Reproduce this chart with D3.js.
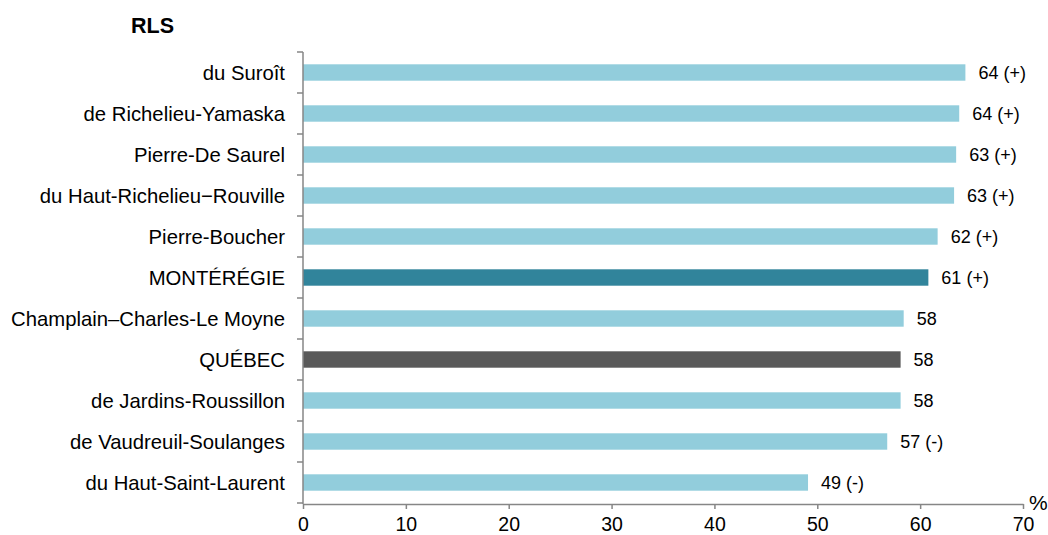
<!DOCTYPE html>
<html><head><meta charset="utf-8">
<script src="https://cdn.jsdelivr.net/npm/d3@7"></script>
<style>body{margin:0;background:#fff}svg{display:block}text{font-family:"Liberation Sans",Arial,sans-serif}</style>
</head><body><svg id="c" width="1048" height="535"></svg>
<script>
const categories = ["du Suroît","de Richelieu-Yamaska","Pierre-De Saurel","du Haut-Richelieu\u2212Rouville","Pierre-Boucher","MONTÉRÉGIE","Champlain\u2013Charles-Le Moyne","QUÉBEC","de Jardins-Roussillon","de Vaudreuil-Soulanges","du Haut-Saint-Laurent"];
const values = [64.4,63.8,63.5,63.3,61.7,60.8,58.4,58.1,58.1,56.8,49.1];
const valueLabels = ["64 (+)","64 (+)","63 (+)","63 (+)","62 (+)","61 (+)","58","58","58","57 (-)","49 (-)"];
const barKind = ["rls","rls","rls","rls","rls","region","rls","quebec","rls","rls","rls"];
const tickValues = [0,10,20,30,40,50,60,70];
const colors = {rls:"#92CDDC", region:"#31849B", quebec:"#595959"};

const svg = d3.select("#c");
const x = d3.scaleLinear().domain([0,70]).range([303,1023]);
const y = d3.scaleBand().domain(categories).range([52,503]).paddingInner(0.6).paddingOuter(0.3);
const axisColor = "#868686";

// bars
svg.selectAll("rect.bar").data(categories).join("rect")
  .attr("x", x(0)).attr("y", d=>y(d))
  .attr("width", (d,i)=>x(values[i])-x(0)).attr("height", y.bandwidth())
  .attr("fill", (d,i)=>colors[barKind[i]]);

// value labels
svg.selectAll("text.val").data(categories).join("text")
  .attr("x", (d,i)=>x(values[i])+13).attr("y", d=>y(d)+y.bandwidth()/2)
  .attr("dy","0.37em").attr("font-size",18).attr("fill","#000")
  .text((d,i)=>valueLabels[i]);

// y axis line & ticks at category boundaries
const step = (503-52)/categories.length;
svg.append("line").attr("x1",303).attr("x2",303).attr("y1",52).attr("y2",504).attr("stroke",axisColor).attr("stroke-width",1.5);
d3.range(categories.length+1).forEach(i=>{
  svg.append("line").attr("x1",297).attr("x2",303).attr("y1",52+i*step).attr("y2",52+i*step).attr("stroke",axisColor).attr("stroke-width",1.5);
});
// category labels
svg.selectAll("text.cat").data(categories).join("text")
  .attr("x",285).attr("y", d=>y(d)+y.bandwidth()/2).attr("dy","0.37em")
  .attr("text-anchor","end").attr("font-size",20.3).attr("fill","#000").text(d=>d);

// x axis
const xAxis = d3.axisBottom(x).tickValues(tickValues).tickSize(5).tickSizeOuter(0).tickFormat(d3.format("d"));
const gx = svg.append("g").attr("transform","translate(0,504)").call(xAxis);
gx.select(".domain").attr("stroke",axisColor).attr("stroke-width",1.5);
gx.selectAll(".tick line").attr("stroke",axisColor).attr("stroke-width",1.5);
gx.selectAll(".tick text").attr("font-size",19.5).attr("fill","#000").attr("font-family","Liberation Sans, Arial, sans-serif").attr("y",27).attr("dy",0);

// titles
svg.append("text").attr("x",152.5).attr("y",33).attr("text-anchor","middle").attr("font-size",21.5).attr("font-weight","bold").text("RLS");
svg.append("text").attr("x",1029).attr("y",510).attr("font-size",21).text("%");
</script></body></html>
